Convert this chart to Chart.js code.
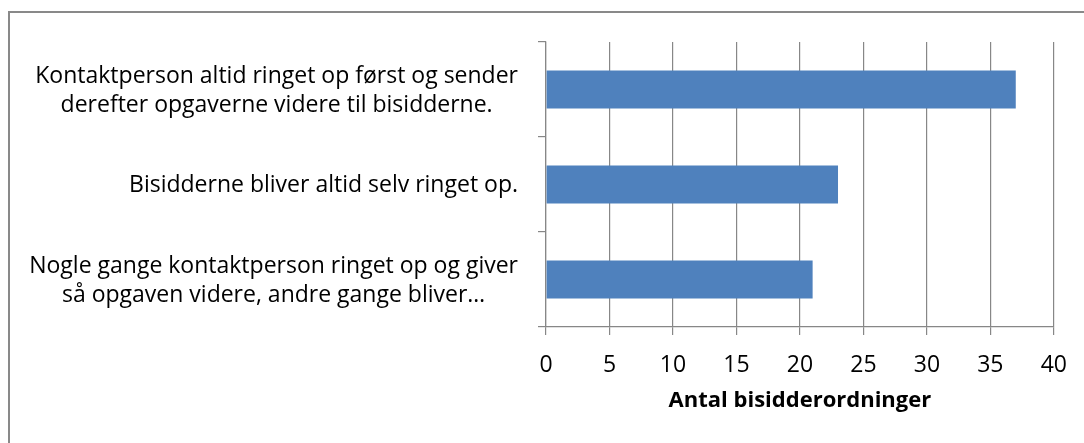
<!DOCTYPE html>
<html>
<head>
<meta charset="utf-8">
<script src="https://cdn.jsdelivr.net/npm/chart.js@4.4.1/dist/chart.umd.min.js"></script>
<style>
  html, body { margin: 0; padding: 0; background: #fff; overflow: hidden; }
  #ramme { position: absolute; left: 8px; top: 11px; width: 1200px; height: 600px; border: 2px solid #898989; box-sizing: border-box; }
  #graf { position: absolute; left: 0; top: 0; }
</style>
</head>
<body>
<div id="ramme"></div>
<canvas id="graf" width="1084" height="443"></canvas>
<script>
// data
const kategorier = [
  ["Kontaktperson altid ringet op først og sender", "derefter opgaverne videre til bisidderne."],
  ["Bisidderne bliver altid selv ringet op."],
  ["Nogle gange kontaktperson ringet op og giver", "så opgaven videre, andre gange bliver…"]
];
const antal = [37, 23, 21];
const xMin = 0;
const xMax = 40;
const xTrin = 5;
const akseTitel = "Antal bisidderordninger";

const gra = "#878787";
const skrift = "Open Sans";

// kategorietiketter: hver blok centreret, blokken højrestillet mod aksen
const etiketter = {
  id: "etiketter",
  afterDraw(chart) {
    const ctx = chart.ctx;
    const y = chart.scales.y;
    ctx.save();
    ctx.font = "23px '" + skrift + "'";
    ctx.fillStyle = "#000";
    ctx.textAlign = "center";
    ctx.textBaseline = "middle";
    kategorier.forEach((linjer, i) => {
      const midt = y.getPixelForTick(i);
      const bredde = Math.max(...linjer.map(l => ctx.measureText(l).width));
      const cx = y.right - 28 - bredde / 2;
      linjer.forEach((l, j) => {
        ctx.fillText(l, cx, midt + 1 + (j - (linjer.length - 1) / 2) * 29);
      });
    });
    ctx.restore();
  }
};

new Chart(document.getElementById("graf"), {
  type: "bar",
  data: {
    labels: kategorier,
    datasets: [{
      label: akseTitel,
      data: antal,
      backgroundColor: "#4F81BD",
      borderWidth: 0,
      barPercentage: 0.4,
      categoryPercentage: 1
    }]
  },
  options: {
    indexAxis: "y",
    responsive: false,
    animation: false,
    layout: { padding: { top: 42, right: 30, left: 0, bottom: 0 } },
    plugins: {
      legend: { display: false },
      tooltip: { enabled: false }
    },
    scales: {
      x: {
        min: xMin,
        max: xMax,
        afterFit: s => { s.height = 116; },
        ticks: {
          stepSize: xTrin,
          padding: 17,
          color: "#000",
          font: { family: skrift, size: 23 }
        },
        grid: { color: gra, tickLength: 8, lineWidth: 1.2 },
        border: { color: gra, width: 1.2 },
        title: {
          display: true,
          text: akseTitel,
          color: "#000",
          font: { family: skrift, size: 22, weight: "bold" },
          padding: { top: 0, bottom: 29 }
        }
      },
      y: {
        afterFit: s => { s.width = 546; },
        ticks: { display: false },
        grid: { offset: true, drawOnChartArea: false, color: gra, tickLength: 8, lineWidth: 1.2 },
        border: { color: gra, width: 1.2 }
      }
    }
  },
  plugins: [etiketter]
});
</script>
</body>
</html>
